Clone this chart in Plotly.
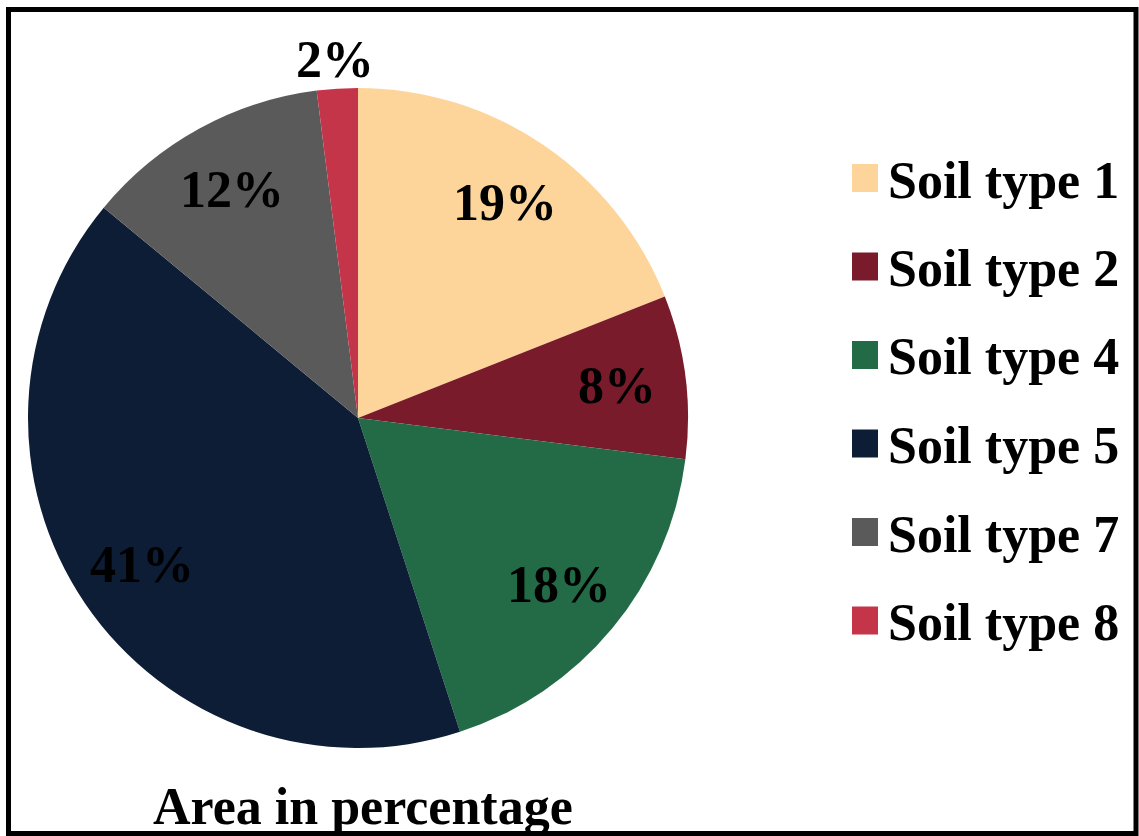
import math
import plotly.graph_objects as go

# Share of total area by soil type (percent)
soil_types = ["Soil type 1", "Soil type 2", "Soil type 4", "Soil type 5", "Soil type 7", "Soil type 8"]
area_pct = [19, 8, 18, 41, 12, 2]
slice_colors = ["#FDD59B", "#7A1B2C", "#236B46", "#0D1D35", "#5A5A5A", "#C4354A"]
chart_title = "Area in percentage"

W, H = 1139, 836
FONT = "Liberation Serif"

# Pie geometry in pixels (margins are zero, so paper space == page pixels)
cx, cy, R = 358, 418, 330


def px_x(x):
    return x / W


def px_y(y):
    return 1 - y / H


fig = go.Figure()
fig.add_trace(go.Pie(
    labels=soil_types,
    values=area_pct,
    sort=False,
    direction="clockwise",
    rotation=0,
    marker=dict(colors=slice_colors, line=dict(width=0)),
    textinfo="none",
    hoverinfo="label+percent",
    showlegend=False,
    domain=dict(x=[px_x(cx - R), px_x(cx + R)], y=[px_y(cy + R), px_y(cy - R)]),
))

annotations = []
shapes = []

# Percentage labels placed on each slice's bisector; small slices go outside
total = sum(area_pct)
cum = 0
for name, v in zip(soil_types, area_pct):
    mid = (cum + v / 2) / total * 2 * math.pi
    cum += v
    frac = 1.09 if v / total < 0.05 else 0.79
    lx = cx + frac * R * math.sin(mid)
    ly = cy - frac * R * math.cos(mid)
    annotations.append(dict(
        x=px_x(lx), y=px_y(ly), xref="paper", yref="paper",
        text=f"{round(v / total * 100)}%", showarrow=False,
        xanchor="center", yanchor="middle",
        font=dict(family=FONT, size=52, color="black", weight="bold"),
    ))

# Legend: colour swatch plus label per soil type
leg_top, leg_step = 178, 88.5
for i, (name, col) in enumerate(zip(soil_types, slice_colors)):
    yc = leg_top + i * leg_step
    shapes.append(dict(
        type="rect", xref="paper", yref="paper",
        x0=px_x(852), x1=px_x(878), y0=px_y(yc + 14), y1=px_y(yc - 14),
        fillcolor=col, line=dict(width=0),
    ))
    annotations.append(dict(
        x=px_x(886), y=px_y(yc + 2), xref="paper", yref="paper",
        text=name, showarrow=False, xanchor="left", yanchor="middle",
        font=dict(family=FONT, size=52, color="black", weight="bold"),
    ))

# Caption under the pie
annotations.append(dict(
    x=px_x(363), y=px_y(806), xref="paper", yref="paper",
    text=chart_title, showarrow=False, xanchor="center", yanchor="middle",
    font=dict(family=FONT, size=52, color="black", weight="bold"),
))

# Outer frame
shapes.append(dict(
    type="rect", xref="paper", yref="paper",
    x0=px_x(8.5), x1=px_x(1136), y0=px_y(833.5), y1=px_y(9.5),
    line=dict(color="black", width=5), fillcolor="rgba(0,0,0,0)",
))

fig.update_layout(
    width=W, height=H,
    margin=dict(l=0, r=0, t=0, b=0),
    paper_bgcolor="white",
    plot_bgcolor="white",
    annotations=annotations,
    shapes=shapes,
)

fig.write_html("out.html")
